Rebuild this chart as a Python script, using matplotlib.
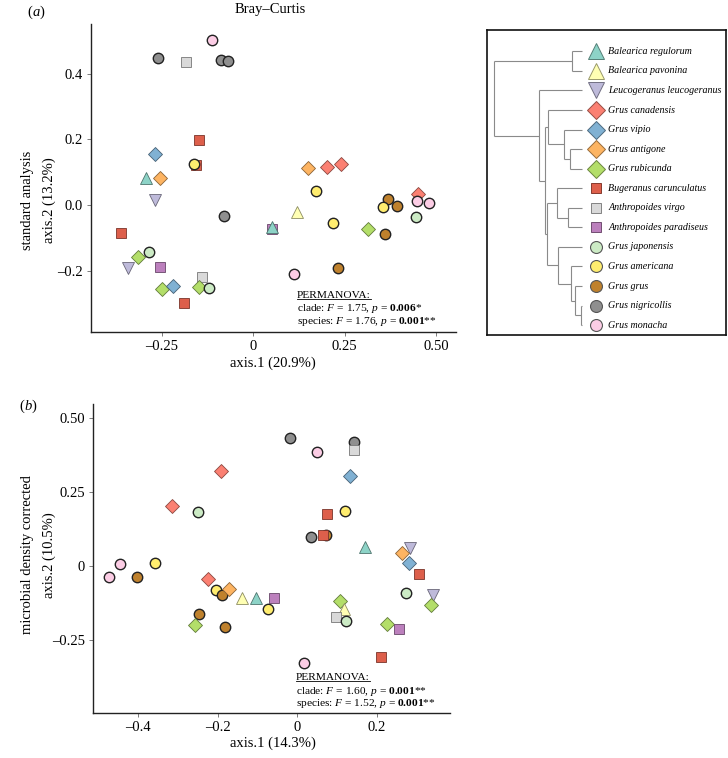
import matplotlib
matplotlib.use("Agg")
import matplotlib.pyplot as plt
import matplotlib.colors as mcolors
import numpy as np

plt.rcParams['font.family'] = ['Liberation Serif', 'DejaVu Serif']
plt.rcParams['mathtext.fontset'] = 'custom'
plt.rcParams['mathtext.rm'] = 'Liberation Serif'
plt.rcParams['mathtext.it'] = 'Liberation Serif:italic'
plt.rcParams['mathtext.bf'] = 'Liberation Serif:bold'

# ---------------- data ----------------
species = ["Balearica regulorum", "Balearica pavonina", "Leucogeranus leucogeranus",
           "Grus canadensis", "Grus vipio", "Grus antigone", "Grus rubicunda",
           "Bugeranus carunculatus", "Anthropoides virgo", "Anthropoides paradiseus",
           "Grus japonensis", "Grus americana", "Grus grus", "Grus nigricollis", "Grus monacha"]
colors = ["#8dd3c7", "#ffffb3", "#bebada", "#fb8072", "#80b1d3", "#fdb462", "#b3de69",
          "#dd5f4b", "#d9d9d9", "#bc80bd", "#ccebc5", "#ffed6f", "#bf812d", "#8f8f8f", "#fccde5"]
markers = ["^", "^", "v", "D", "D", "D", "D", "s", "s", "s", "o", "o", "o", "o", "o"]

# panel (a): standard analysis, Bray-Curtis
a_sp = [7, 13, 8, 14, 13, 13, 7, 11, 4, 0, 5, 2, 13, 9, 0, 7, 6, 10, 2, 9, 8, 6, 4,
        6, 10, 7, 5, 3, 3, 11, 1, 11, 12, 11, 12, 3, 14, 14, 10, 6, 12, 14, 12]
a_x = [-0.158, -0.260, -0.185, -0.112, -0.089, -0.069, -0.149, -0.162, -0.270, -0.294,
       -0.255, -0.270, -0.081, 0.050, 0.050, -0.363, -0.316, -0.286, -0.343, -0.255,
       -0.139, -0.251, -0.220, -0.148, -0.121, -0.189, 0.150, 0.202, 0.239, 0.172,
       0.120, 0.217, 0.370, 0.356, 0.394, 0.451, 0.448, 0.480, 0.445, 0.314, 0.361,
       0.111, 0.232]
a_y = [0.123, 0.449, 0.436, 0.502, 0.442, 0.438, 0.197, 0.126, 0.156, 0.082,
       0.081, 0.016, -0.034, -0.073, -0.068, -0.084, -0.159, -0.143, -0.193, -0.189,
       -0.219, -0.255, -0.247, -0.250, -0.254, -0.300, 0.112, 0.115, 0.124, 0.042,
       -0.022, -0.056, 0.017, -0.005, -0.003, 0.034, 0.012, 0.007, -0.036, -0.074,
       -0.088, -0.211, -0.193]

# panel (b): microbial density corrected
b_sp = [13, 3, 3, 10, 14, 11, 14, 12, 3, 11, 12, 5, 1, 0, 9, 11, 12, 6, 12,
        14, 13, 8, 4, 7, 11, 12, 13, 7, 0, 2, 5, 4, 7, 10, 2, 6, 6, 1, 8, 10,
        6, 9, 7, 14]
b_x = [-0.018, -0.191, -0.315, -0.249, -0.445, -0.358, -0.474, -0.404, -0.223, -0.204,
       -0.190, -0.171, -0.138, -0.103, -0.059, -0.074, -0.247, -0.256, -0.181,
       0.051, 0.144, 0.143, 0.134, 0.076, 0.120, 0.074, 0.035, 0.065, 0.172, 0.285,
       0.265, 0.281, 0.307, 0.273, 0.343, 0.338, 0.109, 0.119, 0.098, 0.123,
       0.227, 0.256, 0.212, 0.018]
b_y = [0.431, 0.319, 0.203, 0.182, 0.006, 0.009, -0.037, -0.039, -0.045, -0.083,
       -0.099, -0.079, -0.107, -0.107, -0.108, -0.144, -0.162, -0.198, -0.207,
       0.385, 0.417, 0.393, 0.304, 0.175, 0.185, 0.105, 0.097, 0.105, 0.065, 0.060,
       0.043, 0.011, -0.026, -0.090, -0.100, -0.133, -0.118, -0.144, -0.173, -0.187,
       -0.197, -0.213, -0.308, -0.327]

# ---------------- helpers ----------------
def edge_of(c, k=0.45):
    r, g, b = mcolors.to_rgb(c)
    return (r * (1 - k), g * (1 - k), b * (1 - k))

panel_ms = {"o": 7.5, "s": 6.6, "D": 7.0, "^": 8.4, "v": 8.4}
legend_ms = {"o": 8.6, "s": 7.8, "D": 9.0, "^": 11.0, "v": 11.0}

def draw_point(ax, i, x, y, msmap):
    m = markers[i]
    if m == "o":
        ec, lw = "#222222", 1.0
    else:
        ec, lw = edge_of(colors[i]), 0.6
    ax.plot([x], [y], marker=m, ms=msmap[m], mfc=colors[i], mec=ec, mew=lw,
            linestyle="none", zorder=3)

def style_axes(ax):
    for s in ["top", "right"]:
        ax.spines[s].set_visible(False)
    for s in ["left", "bottom"]:
        ax.spines[s].set_color("#222222")
        ax.spines[s].set_linewidth(1.0)
    ax.tick_params(direction="out", length=3, width=0.6, color="#666666",
                   labelsize=10.5, pad=3)

W, H = 728, 758
fig = plt.figure(figsize=(W / 100, H / 100), dpi=100)

def fax(l, t, r, b):
    return fig.add_axes([l / W, (H - b) / H, (r - l) / W, (b - t) / H])

# ---------------- panel a ----------------
axa = fax(90.7, 24, 456, 332)
for i, x, y in zip(a_sp, a_x, a_y):
    draw_point(axa, i, x, y, panel_ms)
axa.set_xlim(-0.445, 0.555)
axa.set_ylim(-0.387, 0.552)
axa.set_xticks([-0.25, 0, 0.25, 0.50])
axa.set_xticklabels(["\u20130.25", "0", "0.25", "0.50"])
axa.set_yticks([-0.2, 0, 0.2, 0.4])
axa.set_yticklabels(["\u20130.2", "0.0", "0.2", "0.4"])
style_axes(axa)
fig.text(270 / W, 1 - 9 / H, "Bray\u2013Curtis", ha="center", va="center", fontsize=10.5)
fig.text(273 / W, 1 - 363 / H, "axis.1 (20.9%)", ha="center", va="center", fontsize=10.5)
fig.text(27 / W, 1 - 200 / H, "standard analysis", rotation=90, ha="center", va="center", fontsize=10.5)
fig.text(49 / W, 1 - 200 / H, "axis.2 (13.2%)", rotation=90, ha="center", va="center", fontsize=10.5)
fig.text(32 / W, 1 - 12 / H, "(", ha="right", va="center", fontsize=10.5)
fig.text(32 / W, 1 - 12 / H, "$\\mathit{a}$)", ha="left", va="center", fontsize=10.5)

def permanova(x0, y0, lines):
    fs = 8.2
    t = fig.text(x0 / W, 1 - y0 / H, "PERMANOVA:", ha="left", va="center", fontsize=fs)
    fig.canvas.draw()
    bb = t.get_window_extent()
    fig.add_artist(plt.Line2D([bb.x0 / W, bb.x1 / W], [(bb.y0 + 0.5) / H, (bb.y0 + 0.5) / H],
                              color="black", lw=0.6))
    for k, (lab, F, p, stars) in enumerate(lines):
        s = (lab + ": $\\mathit{F}$ = " + F + ", $\\mathit{p}$ = " +
             "$\\mathbf{" + p + "}$" + stars)
        fig.text(x0 / W, 1 - (y0 + 14 + 12.5 * k) / H, s, ha="left", va="center", fontsize=fs)

permanova(297, 295, [("clade", "1.75", "0.006", "*"), ("species", "1.76", "0.001", "**")])

# ---------------- panel b ----------------
axb = fax(93.3, 404.3, 450, 712.7)
for i, x, y in zip(b_sp, b_x, b_y):
    draw_point(axb, i, x, y, panel_ms)
axb.set_xlim(-0.513, 0.385)
axb.set_ylim(-0.496, 0.546)
axb.set_xticks([-0.4, -0.2, 0, 0.2])
axb.set_xticklabels(["\u20130.4", "\u20130.2", "0", "0.2"])
axb.set_yticks([-0.25, 0, 0.25, 0.5])
axb.set_yticklabels(["\u20130.25", "0", "0.25", "0.50"])
style_axes(axb)
fig.text(273 / W, 1 - 743 / H, "axis.1 (14.3%)", ha="center", va="center", fontsize=10.5)
fig.text(27 / W, 1 - 555 / H, "microbial density corrected", rotation=90, ha="center", va="center", fontsize=10.5)
fig.text(49 / W, 1 - 555 / H, "axis.2 (10.5%)", rotation=90, ha="center", va="center", fontsize=10.5)
fig.text(24 / W, 1 - 406 / H, "(", ha="right", va="center", fontsize=10.5)
fig.text(24 / W, 1 - 406 / H, "$\\mathit{b}$)", ha="left", va="center", fontsize=10.5)

permanova(296, 677, [("clade", "1.60", "0.001", "**"), ("species", "1.52", "0.001", "**")])

# ---------------- legend with dendrogram ----------------
axl = fax(487, 30, 726, 335)
axl.set_xlim(6, 723)
axl.set_ylim(915, 15)
axl.set_xticks([])
axl.set_yticks([])
for s in axl.spines.values():
    s.set_linewidth(1.2)
    s.set_color("#111111")

row_y = np.linspace(78, 886, len(species))
leaf_x = 292
tc = "#8a8a8a"
tlw = 0.8

def vline(x, y0, y1):
    axl.plot([x, x], [y0, y1], color=tc, lw=tlw, solid_capstyle="butt")

def hline(x0, x1, y):
    axl.plot([x0, x1], [y, y], color=tc, lw=tlw, solid_capstyle="butt")

def join(x, ys, xs_children):
    vline(x, min(ys), max(ys))
    for yy, xc in zip(ys, xs_children):
        hline(x, xc, yy)
    return (min(ys) + max(ys)) / 2

L = leaf_x
yA = join(262, [row_y[0], row_y[1]], [L, L])
yAnt = join(255, [row_y[5], row_y[6]], [L, L])
yVip = join(237, [row_y[4], yAnt], [L, 255])
yCan = join(190, [row_y[3], yVip], [L, 237])
yAnth = join(250, [row_y[8], row_y[9]], [L, L])
yBug = join(215, [row_y[7], yAnth], [L, 250])
yF = join(287, [row_y[13], row_y[14]], [L, L])
yG = join(270, [row_y[12], yF], [L, 287])
yH = join(258, [row_y[11], yG], [L, 270])
yI = join(220, [row_y[10], yH], [L, 258])
yJ = join(186, [yBug, yI], [215, 220])
yK = join(180, [yCan, yJ], [190, 186])
yLn = join(163, [row_y[2], yK], [L, 180])
yR = join(28, [yA, yLn], [262, 163])

for k, name in enumerate(species):
    m = markers[k]
    if m == "o":
        ec, lw = "#555555", 0.8
    else:
        ec, lw = edge_of(colors[k], 0.4), 0.7
    axl.plot([333], [row_y[k]], marker=m, ms=legend_ms[m], mfc=colors[k], mec=ec, mew=lw,
             linestyle="none", zorder=3)
    axl.text(370, row_y[k], name, ha="left", va="center", fontsize=7.2, style="italic")

fig.savefig("out.png", dpi=100)
